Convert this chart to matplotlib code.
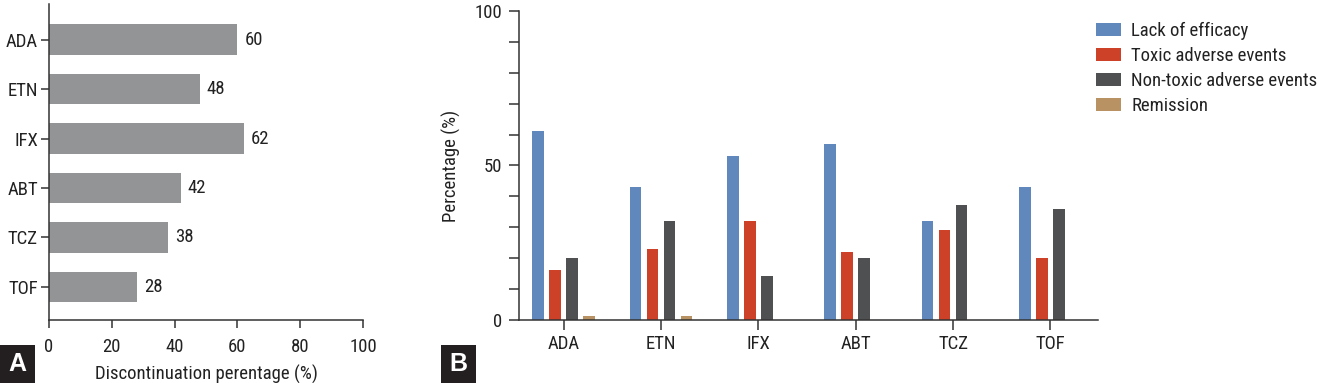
import numpy as np
import matplotlib
matplotlib.use("Agg")
import matplotlib.pyplot as plt
from matplotlib.patches import Rectangle
from matplotlib.ticker import MultipleLocator

plt.rcParams['font.family'] = ['Roboto Condensed', 'Roboto', 'DejaVu Sans']

# Panel A data
drugs = ["ADA", "ETN", "IFX", "ABT", "TCZ", "TOF"]
discontinuation = [60, 48, 62, 42, 38, 28]

# Panel B data
reasons = ["Lack of efficacy", "Toxic adverse events",
           "Non-toxic adverse events", "Remission"]
lack_of_efficacy = [61.2, 43.0, 53.1, 57.0, 32.1, 43.0]
toxic_ae = [16.2, 23.0, 32.1, 22.0, 29.2, 20.1]
nontoxic_ae = [20.1, 32.1, 14.3, 20.1, 37.3, 36.0]
remission = [1.3, 1.3, 0, 0, 0, 0]

colors = ["#6088bd", "#cd4129", "#4f5052", "#b89262"]
spine_col = "#333333"
txt_col = "#222222"
fs = 13.5

fig = plt.figure(figsize=(13.18, 3.83), dpi=100)
W, H = 1318, 383

# ---- panel A ----
axA = fig.add_axes([49 / W, 1 - 320 / H, (363 - 49) / W, (320 - 4) / H])
y = np.arange(len(drugs))
axA.barh(y, discontinuation, height=0.62, color="#939496")
for yi, v in zip(y, discontinuation):
    axA.text(v + 2.2, yi, str(v), va="center", ha="left", fontsize=fs, color=txt_col)
axA.set_yticks(y)
axA.set_yticklabels(drugs)
axA.set_ylim(5.67, -0.72)
axA.set_xlim(0, 100)
axA.set_xticks(np.arange(0, 101, 20))
axA.set_xlabel("Discontinuation perentage (%)", fontsize=fs, labelpad=6, color=txt_col)
for s in ["top", "right"]:
    axA.spines[s].set_visible(False)
for s in ["left", "bottom"]:
    axA.spines[s].set_color(spine_col)
    axA.spines[s].set_linewidth(1.1)
axA.tick_params(axis="y", length=6, width=1.1, color=spine_col, labelsize=fs, pad=2, labelcolor=txt_col)
axA.tick_params(axis="x", length=6, width=1.1, color=spine_col, labelsize=fs, pad=7, labelcolor=txt_col)

# ---- panel B ----
axB = fig.add_axes([519 / W, 1 - 320 / H, (1098 - 519) / W, (320 - 11) / H])
x = np.arange(len(drugs))
series = [lack_of_efficacy, toxic_ae, nontoxic_ae, remission]
offsets = [-0.2625, -0.0875, 0.0875, 0.2625]
for vals, off, c, lab in zip(series, offsets, colors, reasons):
    axB.bar(x + off, vals, width=0.12, color=c, label=lab)
axB.set_xlim(-0.46, 5.49)
axB.set_ylim(0, 100)
axB.set_xticks(x)
axB.set_xticklabels(drugs)
axB.set_yticks([0, 50, 100])
axB.yaxis.set_minor_locator(MultipleLocator(10))
axB.set_ylabel("Percentage (%)", fontsize=fs, labelpad=10, color=txt_col)
for s in ["top", "right"]:
    axB.spines[s].set_visible(False)
for s in ["left", "bottom"]:
    axB.spines[s].set_color(spine_col)
    axB.spines[s].set_linewidth(1.1)
axB.tick_params(axis="y", which="both", length=7, width=1.1, color=spine_col, labelsize=fs, pad=5, labelcolor=txt_col)
axB.tick_params(axis="x", length=7, width=1.1, color=spine_col, labelsize=fs, pad=4, labelcolor=txt_col)

fig.legend(loc="upper left", bbox_to_anchor=(1096 / W, 1 - 22 / H),
           frameon=False, fontsize=fs, handlelength=1.33, handleheight=0.75,
           handletextpad=0.55, labelspacing=0.37, borderpad=0, borderaxespad=0,
           labelcolor=txt_col)

# panel letters
for x0, letter in [(0, "A"), (441, "B")]:
    fig.patches.append(Rectangle((x0 / W, 0), 35 / W, 38 / H, transform=fig.transFigure,
                                 facecolor="#231f20", edgecolor="none"))
    fig.text((x0 + 17.5) / W, 19 / H, letter, color="white", fontsize=18,
             fontweight="bold", ha="center", va="center", family=["Liberation Sans", "DejaVu Sans"])

fig.savefig("out.png", dpi=100)
